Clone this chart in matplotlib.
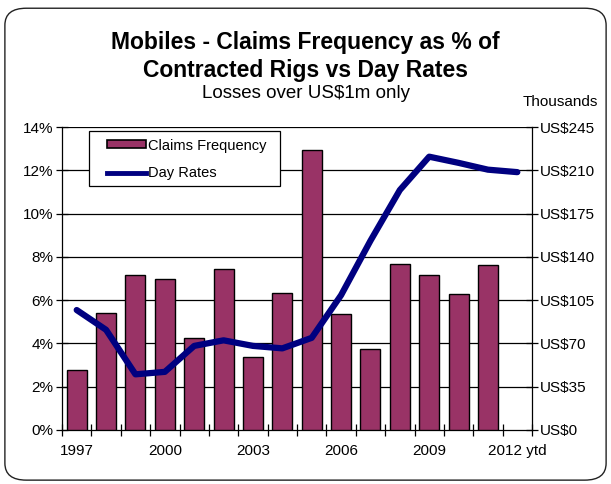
import matplotlib
matplotlib.use("Agg")
import matplotlib.pyplot as plt
from matplotlib.patches import FancyBboxPatch, Patch, Rectangle
from matplotlib.lines import Line2D
import numpy as np

plt.rcParams['font.family'] = ['Liberation Sans', 'DejaVu Sans']

# Data
years = ["1997", "1998", "1999", "2000", "2001", "2002", "2003", "2004",
         "2005", "2006", "2007", "2008", "2009", "2010", "2011", "2012 ytd"]
claims_freq = [2.75, 5.42, 7.15, 6.97, 4.25, 7.46, 3.35, 6.32,
               12.95, 5.36, 3.76, 7.68, 7.15, 6.29, 7.63]          # % (no 2012 ytd bar)
day_rates = [97, 81, 45, 47, 68, 72.5, 68, 66, 74.5,
             109, 153, 194, 221, 216, 210.5, 208.5]                 # US$ thousands
tick_years = ["1997", "2000", "2003", "2006", "2009", "2012 ytd"]
left_ticks = [0, 2, 4, 6, 8, 10, 12, 14]
right_ticks = [0, 35, 70, 105, 140, 175, 210, 245]

bar_color = "#993366"
line_color = "#000080"

fig = plt.figure(figsize=(6.11, 4.84), dpi=100)
fig.patch.set_facecolor("white")

# Rounded frame around the whole chart
frame = FancyBboxPatch((0.008, 0.008), 0.984, 0.975,
                       boxstyle="round,pad=0,rounding_size=0.035",
                       transform=fig.transFigure, facecolor="none",
                       edgecolor="#222222", linewidth=1.0, zorder=-5)
fig.patches.append(frame)

ax = fig.add_axes([0.1015, 0.1116, 0.7692, 0.626])
ax.set_facecolor("none")
ax2 = ax.twinx()

x = np.arange(len(years))
xb = np.arange(len(claims_freq))

ax.bar(xb, claims_freq, width=0.68, color=bar_color, edgecolor="black",
       linewidth=1.0, zorder=3)
ax.set_xlim(-0.5, len(years) - 0.5)
ax.set_ylim(0, 14)
ax.set_yticks(left_ticks)
ax.set_yticklabels([f"{t}%" for t in left_ticks])
for t in left_ticks[1:]:
    ax.axhline(t, color="black", linewidth=0.9, zorder=1)

ax2.plot(x, day_rates, color=line_color, linewidth=4.5,
         solid_capstyle="round", solid_joinstyle="round", zorder=4)
ax2.set_ylim(0, 245)
ax2.set_yticks(right_ticks)
ax2.set_yticklabels([f"US\\${t}" for t in right_ticks])

# Category axis: ticks at boundaries, labels every third year
ax.set_xticks(np.arange(-0.5, len(years), 1.0))
ax.set_xticklabels([])
ax.tick_params(axis="x", direction="inout", length=8, width=0.9)
for lbl in tick_years:
    i = years.index(lbl)
    ax.text(i, -0.045, lbl, transform=ax.get_xaxis_transform(),
            ha="center", va="top", fontsize=11)

ax.tick_params(axis="y", direction="inout", length=8, width=0.9,
               labelsize=11, pad=2)
ax2.tick_params(axis="y", direction="inout", length=8, width=0.9,
                labelsize=11, pad=2)

for a in (ax, ax2):
    a.spines["top"].set_visible(False)
    for s in ("left", "right", "bottom"):
        a.spines[s].set_color("black")
        a.spines[s].set_linewidth(0.9)
ax.spines["right"].set_visible(False)
ax2.spines["left"].set_visible(False)
ax2.spines["bottom"].set_visible(False)

# Legend: white box with a black border, entries placed inside it
legend_box = Rectangle((0.0574, 0.805), 0.4064, 0.182, transform=ax2.transAxes,
                       facecolor="white", edgecolor="black", linewidth=0.9,
                       zorder=9)
ax2.add_patch(legend_box)
handles = [Patch(facecolor=bar_color, edgecolor="black", linewidth=1.2),
           Line2D([0], [0], color=line_color, linewidth=3.5)]
leg = ax2.legend(handles, ["Claims Frequency", "Day Rates"],
                 loc="upper left", bbox_to_anchor=(0.0957, 0.962),
                 fontsize=10.5, frameon=False, borderpad=0,
                 handlelength=2.7, handleheight=0.5, handletextpad=0.1,
                 labelspacing=0.95, borderaxespad=0)
leg.set_zorder(10)

# Titles
fig.text(0.5, 0.912, "Mobiles - Claims Frequency as % of", ha="center",
         va="center", fontsize=16.5, fontweight="bold")
fig.text(0.5, 0.855, "Contracted Rigs vs Day Rates", ha="center",
         va="center", fontsize=16.5, fontweight="bold")
fig.text(0.5, 0.806, "Losses over US\\$1m only", ha="center",
         va="center", fontsize=13.5)
fig.text(0.917, 0.789, "Thousands", ha="center", va="center", fontsize=11)

fig.savefig("out.png", dpi=100, facecolor="white")
